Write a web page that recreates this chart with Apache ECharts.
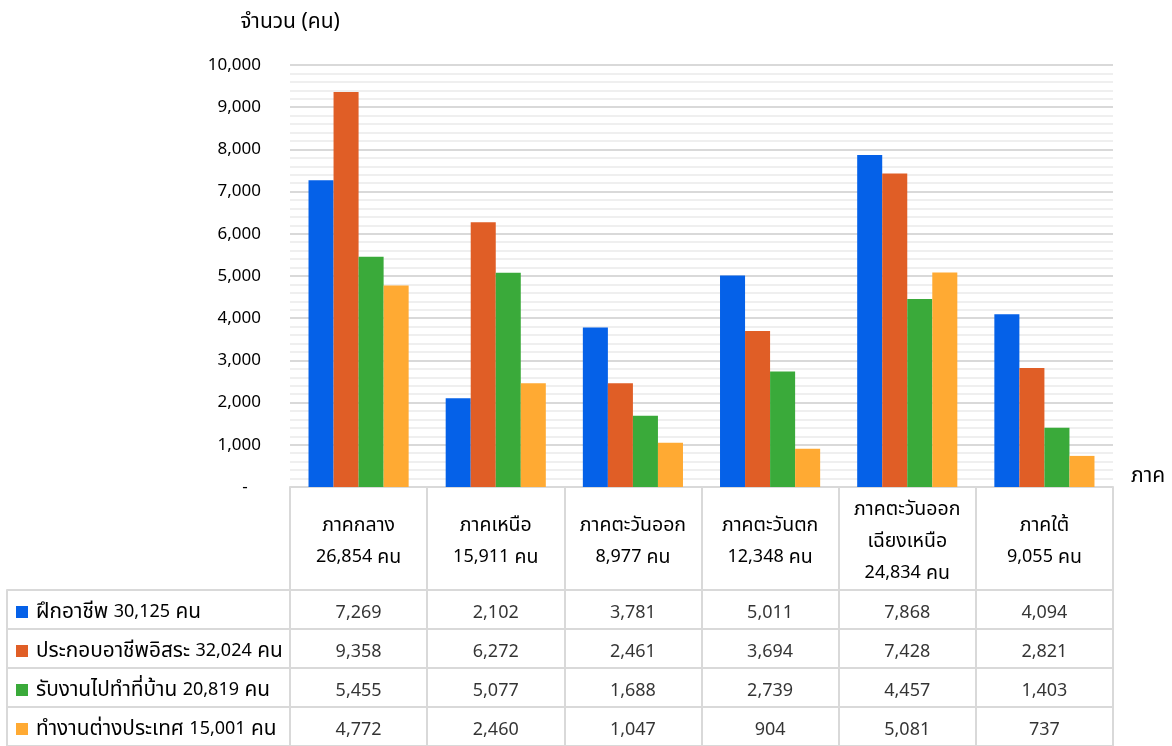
<!DOCTYPE html>
<html><head><meta charset="utf-8">
<script src="https://cdn.jsdelivr.net/npm/echarts@6/dist/echarts.min.js"></script>
<style>html,body{margin:0;padding:0;background:#fff}#c{width:1172px;height:746px}</style>
</head><body><div id="c"></div>
<script>
const regions = ['ภาคกลาง', 'ภาคเหนือ', 'ภาคตะวันออก', 'ภาคตะวันตก', 'ภาคตะวันออก\nเฉียงเหนือ', 'ภาคใต้'];
const regionTotals = [26854, 15911, 8977, 12348, 24834, 9055];
const seriesNames = ['ฝึกอาชีพ', 'ประกอบอาชีพอิสระ', 'รับงานไปทำที่บ้าน', 'ทำงานต่างประเทศ'];
const seriesTotals = [30125, 32024, 20819, 15001];
const training = [7269, 2102, 3781, 5011, 7868, 4094];
const selfEmployed = [9358, 6272, 2461, 3694, 7428, 2821];
const homeWork = [5455, 5077, 1688, 2739, 4457, 1403];
const abroad = [4772, 2460, 1047, 904, 5081, 737];
const colors = ['#0561E8', '#E05E26', '#3AAA3A', '#FFAA33'];

const seriesValues = [training, selfEmployed, homeWork, abroad];
const FONT = 'Tahoma, "Noto Sans", "Noto Sans Thai", sans-serif';
const fmt = v => Number(v).toLocaleString('en-US');
const BORDER = '#d9d9d9';
const TH = 19.5, NUM = 18, LEG_TH = 20.8;

const cellData = [];
seriesValues.forEach((arr, si) => arr.forEach((v, ci) => cellData.push([ci, si, v])));

const headRich = {
  th: { fontSize: TH, lineHeight: 32, color: '#000', fontFamily: FONT },
  n: { fontSize: NUM, lineHeight: 32, color: '#000', fontFamily: FONT }
};
const legRich = {
  th: { fontSize: LEG_TH, color: '#000', fontFamily: FONT },
  n: { fontSize: NUM, color: '#000', fontFamily: FONT },
  g: { width: 8 }
};
colors.forEach((c, i) => { legRich['s' + i] = { backgroundColor: c, width: 12, height: 12 }; });

const chart = echarts.init(document.getElementById('c'));
chart.setOption({
  animation: false,
  textStyle: { fontFamily: FONT },
  grid: [
    { left: 290, right: 59, top: 65, height: 422 },
    { left: 290, right: 59, top: 590, height: 164 },
    { left: 7, width: 283, top: 590, height: 164 }
  ],
  xAxis: [
    {
      gridIndex: 0, type: 'category', data: regions,
      name: 'ภาค', nameLocation: 'end', nameGap: 18,
      nameTextStyle: { fontSize: 21, color: '#000', verticalAlign: 'bottom', fontFamily: FONT },
      axisLine: { show: true, lineStyle: { color: BORDER, width: 2 } },
      axisTick: { show: true, interval: 0, length: 103, lineStyle: { color: BORDER, width: 2 } },
      axisLabel: {
        interval: 0, hideOverlap: false,
        margin: 54, verticalAlign: 'middle', color: '#000', fontFamily: FONT,
        formatter: (v, i) => v.split('\n').map(s => '{th|' + s + '}').join('\n') +
          '\n{n|' + fmt(regionTotals[i]) + '}{th| คน}',
        rich: headRich
      },
      splitLine: { show: false }
    },
    {
      gridIndex: 1, type: 'category', data: regions, position: 'top',
      axisLine: { show: true, lineStyle: { color: BORDER, width: 2 } },
      axisTick: { show: false }, axisLabel: { show: false },
      splitLine: { show: true, interval: 0, lineStyle: { color: BORDER, width: 2 } }
    },
    {
      gridIndex: 2, type: 'category', data: [''], position: 'top',
      axisLine: { show: true, lineStyle: { color: BORDER, width: 2 } },
      axisTick: { show: false }, axisLabel: { show: false },
      splitLine: { show: true, interval: 0, lineStyle: { color: BORDER, width: 2 } }
    }
  ],
  yAxis: [
    {
      gridIndex: 0, type: 'value', min: 0, max: 10000, interval: 1000,
      name: 'จำนวน (คน)', nameLocation: 'end', nameGap: 43,
      nameTextStyle: { fontSize: 21, color: '#000', align: 'center', verticalAlign: 'middle', fontFamily: FONT },
      axisLine: { show: false }, axisTick: { show: false },
      axisLabel: { margin: 29, fontSize: 17, color: '#000', fontFamily: FONT, formatter: v => v === 0 ? '-   ' : fmt(v) },
      splitLine: { show: true, lineStyle: { color: BORDER, width: 2 } },
      minorTick: { show: false, splitNumber: 5 },
      minorSplitLine: { show: true, lineStyle: { color: '#efefef', width: 2 } }
    },
    {
      gridIndex: 1, type: 'category', data: seriesNames, inverse: true,
      axisLine: { show: false }, axisTick: { show: false }, axisLabel: { show: false },
      splitLine: { show: true, interval: 0, lineStyle: { color: BORDER, width: 2 } }
    },
    {
      gridIndex: 2, type: 'category', data: seriesNames, inverse: true,
      axisLine: { show: false }, axisTick: { show: false },
      axisLabel: {
        interval: 0, inside: true, margin: 9, align: 'left', padding: [5, 0, 0, 0],
        formatter: (v, i) => '{s' + i + '|}{g|}{th|' + v + ' }{n|' + fmt(seriesTotals[i]) + '}{th| คน}',
        rich: legRich
      },
      splitLine: { show: true, interval: 0, lineStyle: { color: BORDER, width: 2 } }
    }
  ],
  series: seriesValues.map((arr, i) => ({
    name: seriesNames[i], type: 'bar', xAxisIndex: 0, yAxisIndex: 0,
    data: arr, barGap: '0%', barCategoryGap: '27%',
    itemStyle: { color: colors[i] }, silent: true
  })).concat([{
    type: 'scatter', xAxisIndex: 1, yAxisIndex: 1, data: cellData,
    symbolSize: 1, itemStyle: { color: 'transparent' }, silent: true,
    label: { show: true, position: 'inside', offset: [0, 3], fontSize: NUM, color: '#000', fontFamily: FONT,
      formatter: p => fmt(p.value[2]) }
  }])
});
</script></body></html>
